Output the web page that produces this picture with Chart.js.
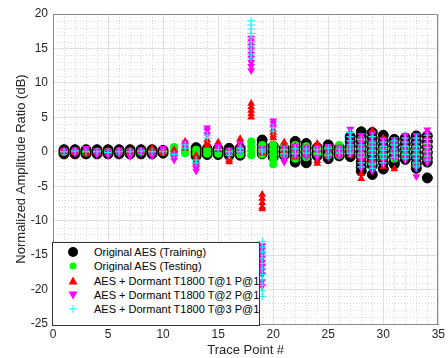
<!DOCTYPE html>
<html>
<head>
<meta charset="utf-8">
<script src="https://cdn.jsdelivr.net/npm/chart.js@4/dist/chart.umd.min.js"></script>
<style>
  html, body { margin: 0; padding: 0; background: #fff; }
  #wrap { position: relative; width: 448px; height: 358px; }
  #legend {
    position: absolute; left: 52px; top: 242px; width: 206px; height: 82px;
    border: 1px solid #333; background: #fff;
    font-family: "Liberation Sans", Arial, sans-serif; font-size: 11px; color: #000;
  }
  #legend .row { position: absolute; left: 0; height: 14px; line-height: 14px; white-space: nowrap; }
  #legend svg { position: absolute; left: 14px; top: 1px; }
  #legend span { position: absolute; left: 41px; top: 0; }
</style>
</head>
<body>
<div id="wrap">
  <canvas id="chart" width="448" height="358"></canvas>
  <div id="legend"></div>
</div>
<script>
// trace points on the x axis
const tracePoints = [1, 2, 3, 4, 5, 6, 7, 8, 9, 10, 11, 12, 13, 14, 15, 16, 17,
  18, 19, 20, 21, 22, 23, 24, 25, 26, 27, 28, 29, 30, 31, 32, 33, 34];

const seriesNames = [
  "Original AES (Training)",
  "Original AES (Testing)",
  "AES + Dormant T1800 T@1 P@1",
  "AES + Dormant T1800 T@2 P@1",
  "AES + Dormant T1800 T@3 P@1"
];

const xTicks = [0, 5, 10, 15, 20, 25, 30, 35];
const yTicks = [-25, -20, -15, -10, -5, 0, 5, 10, 15, 20];

// one list of read-off values (dB) per trace point
const trainingY = [
  [-0.3, 0, 0.3], [-0.3, 0, 0.3], [-0.3, 0, 0.3], [-0.3, 0, 0.3], [-0.3, 0, 0.3],
  [-0.3, 0, 0.3], [-0.3, 0, 0.3], [-0.3, 0, 0.3], [-0.3, 0, 0.3], [-0.2, 0.2],
  [], [], [-0.6, -0.2, 0.2, 0.6], [-0.4, 0, 0.4], [-0.4, 0, 0.4],
  [-0.5, 0, 0.5], [-0.5, 0, 0.5], [], [1.7, 1.0, 0.3, -0.3], [0.8, 0, -0.8],
  [0.5, 0, -0.5], [1.5, 0.8, 0, -0.8, -1.5], [1.2, 0.5, -0.3, -1.1, -1.6], [0.6, 0, -0.6], [1.0, 0.4, -0.3, -1.0],
  [0.6, 0, -0.6], [2.2, 1.5, 0.8, 0, -0.7], [2.9, 2.2, 1.5, 0.7, 0, -0.7, -1.5, -2.2, -2.8],
  [2.8, 2.0, 1.2, 0.4, -0.4, -1.2, -2.0, -3.3], [2.4, 1.6, 0.8, 0, -0.8, -1.6, -2.5],
  [1.8, 1.0, 0.2, -0.6, -1.4, -1.8], [2.0, 1.2, 0.4, -0.4, -1.1],
  [2.3, 1.5, 0.7, -0.1, -0.9, -1.7, -2.4], [2.3, 1.5, 0.7, -0.1, -0.9, -1.5, -3.8]
];

const testingY = [
  [0], [0], [-0.1], [0], [0], [0], [0], [0], [0], [0],
  [0.7, 0.3, -0.3], [0.3, -0.2], [0.3, -0.3], [0.3, -0.3], [0.3, -0.3],
  [0], [0.3, -0.4], [1.5, 0.8, 0.1, -0.5], [1.0, 0.3, -0.4], [1.0, 0.3, -0.4, -1.1, -1.8],
  [0.9, 0.2, -0.5], [1.0, 0, -1.0], [0.8, 0, -0.8], [0.5, -0.3], [0.5, -0.5],
  [1.0, 0.2, -0.5], [0.5, 0], [1.8, 0.5, -0.5], [1.0, 0, -1.7], [0.5, -0.5],
  [1.2, 0, -1.0], [0.5, -0.5], [0.5, -0.5, -1.8], [1.0, 0, -1.0]
];

const t1Y = [
  [0, 0.2], [-0.2, 0.1], [-0.3, 0], [0, -0.2], [0.1, -0.2],
  [0, 0.2], [0.2, -0.1], [0, 0.1], [0.5, 0], [0.1, -0.2],
  [0.3, -0.3], [1.5, 1.0, 0.5], [-0.5, -0.9, -1.3, -1.7], [1.7, 1.3, 0.9], [1.4, 0.8, 0.3],
  [-0.9, -1.2, -1.5], [1.9, 1.4, 0.8],
  [7.0, 6.5, 6.0, 5.5, 5.0],
  [0.3, -0.2, -6.2, -6.8, -7.4, -8.0, -8.3], [3.2, 2.8, 2.4, 2.0],
  [1.4, 0.8, 0.2], [0.8, -0.8], [0.5, -0.5], [1.2, -1.3, -1.7], [0.5, -0.5],
  [0.5, -0.5], [1.5, 0.5, -0.5], [2.0, 0.5, -1.0, -2.0, -3.2, -3.9],
  [3.1, 2.2, 1.0, 0, -1.0, -2.0], [2.0, 1.0, -1.0, -2.2],
  [1.5, 0.5, -0.5, -2.5], [1.5, 0.5, -0.5], [1.5, 0.5, -0.5, -1.5], [2.0, 1.0, 0, -1.0]
];

const t2Y = [
  [0.2, -0.1], [0.3, -0.2], [0.5, 0.3], [0.2, -0.4], [0.1, -0.5],
  [0.3, -0.3], [0.1, -0.7], [0.3, -0.2], [-0.3, -0.6], [0.5, 0.2],
  [-0.3, -0.8, -1.2], [1.3, 0.8], [-2.0, -2.4, -2.8], [3.5, 3.1, 2.5], [0.8, 0.4],
  [0.3, -0.3], [1.2, 0.6, 0],
  [16.5, 16.0, 15.4, 14.8, 14.2, 13.6, 13.0, 12.4, 11.8],
  [0.5, 0, -13.6, -14.2, -14.8, -15.4, -16.0, -16.6, -17.2, -17.8, -18.8, -19.5],
  [4.5, 4.1, 3.6],
  [0.5, -0.5, -1.0, -1.5], [0.8, 0, -0.6], [0.7, 0, -0.7], [0.6, 0, -0.8], [0.8, 0, -0.8],
  [0.7, 0, -0.6], [3.3, 2.6, 2.0, 1.4, 0.8, 0.2, -0.4],
  [2.4, 1.8, 1.2, 0.6, 0, -0.6, -1.2, -1.8, -2.4],
  [2.6, 2.0, 1.4, 0.8, 0.2, -0.4, -1.0, -1.6, -2.2, -2.8],
  [1.8, 1.2, 0.6, 0, -0.6, -1.2, -1.8], [1.8, 1.2, 0.6, 0, -0.6, -1.0],
  [2.4, 1.8, 1.2, 0.6, 0, -0.6, -1.2],
  [2.4, 1.8, 1.2, 0.6, 0, -0.6, -1.2, -1.8, -2.4, -3.6],
  [3.2, 2.6, 1.8, 1.2, 0.6, 0, -0.6, -1.2, -1.6]
];

const t3Y = [
  [0], [0.1], [0], [0], [-0.1], [0], [0], [0.1], [0], [0],
  [-0.4], [1.0, 0.5], [-1.2, -1.6], [2.4, 2.0], [0.3],
  [-0.5, 0], [0.5, 0],
  [19.0, 18.4, 17.8, 17.2, 16.6, 16.0, 15.4, 14.8, 14.2, 13.6],
  [0.3, 0, -13.0, -13.8, -14.6, -15.4, -16.2, -17.0, -17.8, -18.6, -19.4, -20.2, -21.0],
  [3.5, 3.0],
  [0.3, -0.3], [0.5, -0.3], [0.4, -0.2], [0.3, -0.3], [0.5, -0.5],
  [0.4, -0.2], [2.8, 2.2, 1.6, 1.0, 0.4, -0.2],
  [1.8, 1.0, 0.4, -0.2, -0.8, -1.6, -2.2],
  [2.2, 1.4, 0.8, 0.2, -0.4, -1.0, -1.8, -2.4],
  [1.4, 0.8, 0.2, -0.4, -1.0, -1.6], [1.6, 1.0, 0.4, -0.2, -0.8],
  [2.0, 1.4, 0.8, 0.2, -0.4, -1.0],
  [2.0, 1.4, 0.8, 0.2, -0.4, -1.0, -1.6, -2.2],
  [2.4, 1.8, 1.2, 0.6, 0, -0.6, -1.2]
];

function toPoints(ys) {
  return tracePoints.flatMap((x, i) => ys[i].map(y => ({ x: x, y: y })));
}

const FONT = '"Liberation Sans", Arial, sans-serif';
const TXT = '#262626';

// dotted minor grid every 1 unit plus the closed axes box
const minorGrid = {
  id: 'minorGrid',
  beforeDatasetsDraw(chart) {
    const { ctx, chartArea: a, scales } = chart;
    ctx.save();
    ctx.strokeStyle = '#d9d9d9';
    ctx.lineWidth = 1;
    ctx.setLineDash([1, 2]);
    for (let v = -25; v <= 20; v++) {
      if (v % 5 === 0) continue;
      const y = Math.round(scales.y.getPixelForValue(v)) + 0.5;
      ctx.beginPath(); ctx.moveTo(a.left, y); ctx.lineTo(a.right, y); ctx.stroke();
    }
    for (let v = 0; v <= 35; v++) {
      if (v % 5 === 0) continue;
      const x = Math.round(scales.x.getPixelForValue(v)) + 0.5;
      ctx.beginPath(); ctx.moveTo(x, a.top); ctx.lineTo(x, a.bottom); ctx.stroke();
    }
    ctx.setLineDash([]);
    ctx.strokeStyle = '#8a8a8a';
    ctx.strokeRect(Math.round(a.left) + 0.5, Math.round(a.top) + 0.5,
      Math.round(a.right - a.left) - 1, Math.round(a.bottom - a.top));
    ctx.restore();
  }
};

const styles = [
  { pointStyle: 'circle', backgroundColor: '#000000', borderColor: '#000000', pointRadius: 5, borderWidth: 1, order: 5 },
  { pointStyle: 'circle', backgroundColor: '#00ff00', borderColor: '#00ff00', pointRadius: 4, borderWidth: 0, order: 4 },
  { pointStyle: 'triangle', backgroundColor: '#ff0000', borderColor: '#ff0000', pointRadius: 4.5, borderWidth: 0, order: 3 },
  { pointStyle: 'triangle', rotation: 180, backgroundColor: '#ff00ff', borderColor: '#ff00ff', pointRadius: 4.5, borderWidth: 0, order: 2 },
  { pointStyle: 'cross', backgroundColor: '#00ffff', borderColor: '#00ffff', pointRadius: 4, borderWidth: 1, order: 1 }
];
const allY = [trainingY, testingY, t1Y, t2Y, t3Y];

const datasets = allY.map((ys, i) => ({
  label: seriesNames[i],
  data: toPoints(ys),
  pointStyle: styles[i].pointStyle,
  rotation: styles[i].rotation || 0,
  backgroundColor: styles[i].backgroundColor,
  borderColor: styles[i].borderColor,
  pointRadius: styles[i].pointRadius,
  pointHoverRadius: styles[i].pointRadius,
  borderWidth: styles[i].borderWidth,
  order: styles[i].order,
  showLine: false
}));

new Chart(document.getElementById('chart'), {
  type: 'scatter',
  data: { datasets: datasets },
  options: {
    responsive: false,
    animation: false,
    events: [],
    layout: { padding: { top: 14, right: 4, left: 0, bottom: 0 } },
    plugins: { legend: { display: false }, tooltip: { enabled: false } },
    scales: {
      x: {
        type: 'linear', min: 0, max: 35,
        afterBuildTicks: s => { s.ticks = xTicks.map(v => ({ value: v })); },
        afterFit: s => { s.height = 34; },
        grid: { color: '#e0e0e0', drawTicks: false },
        border: { color: '#8a8a8a' },
        ticks: { color: TXT, font: { family: FONT, size: 12 }, padding: 3, maxRotation: 0 },
        title: { display: true, text: 'Trace Point #', color: TXT, font: { family: FONT, size: 13 }, padding: { top: 0, bottom: 0 } }
      },
      y: {
        type: 'linear', min: -25, max: 20,
        afterBuildTicks: s => { s.ticks = yTicks.map(v => ({ value: v })); },
        afterFit: s => { s.width = 53; },
        grid: { color: '#e0e0e0', drawTicks: false },
        border: { color: '#8a8a8a' },
        ticks: { color: TXT, font: { family: FONT, size: 12 }, padding: 5 },
        title: { display: true, text: 'Normalized Amplitude Ratio (dB)', color: TXT, font: { family: FONT, size: 13 }, padding: { top: 14, bottom: 0 } }
      }
    }
  },
  plugins: [minorGrid]
});

// legend box inside the axes, bottom left
const marks = [
  '<circle cx="6" cy="6" r="5" fill="#000"/>',
  '<circle cx="6" cy="6" r="3.5" fill="#00ff00"/>',
  '<polygon points="6,1.5 10.5,9.5 1.5,9.5" fill="#ff0000"/>',
  '<polygon points="1.5,2.5 10.5,2.5 6,10.5" fill="#ff00ff"/>',
  '<path d="M6 2V10M2 6H10" stroke="#00ffff" stroke-width="1"/>'
];
const legend = document.getElementById('legend');
seriesNames.forEach((name, i) => {
  const row = document.createElement('div');
  row.className = 'row';
  row.style.top = (2 + i * 14.3) + 'px';
  row.innerHTML = '<svg width="12" height="12" viewBox="0 0 12 12">' + marks[i] + '</svg><span>' + name + '</span>';
  legend.appendChild(row);
});
</script>
</body>
</html>
